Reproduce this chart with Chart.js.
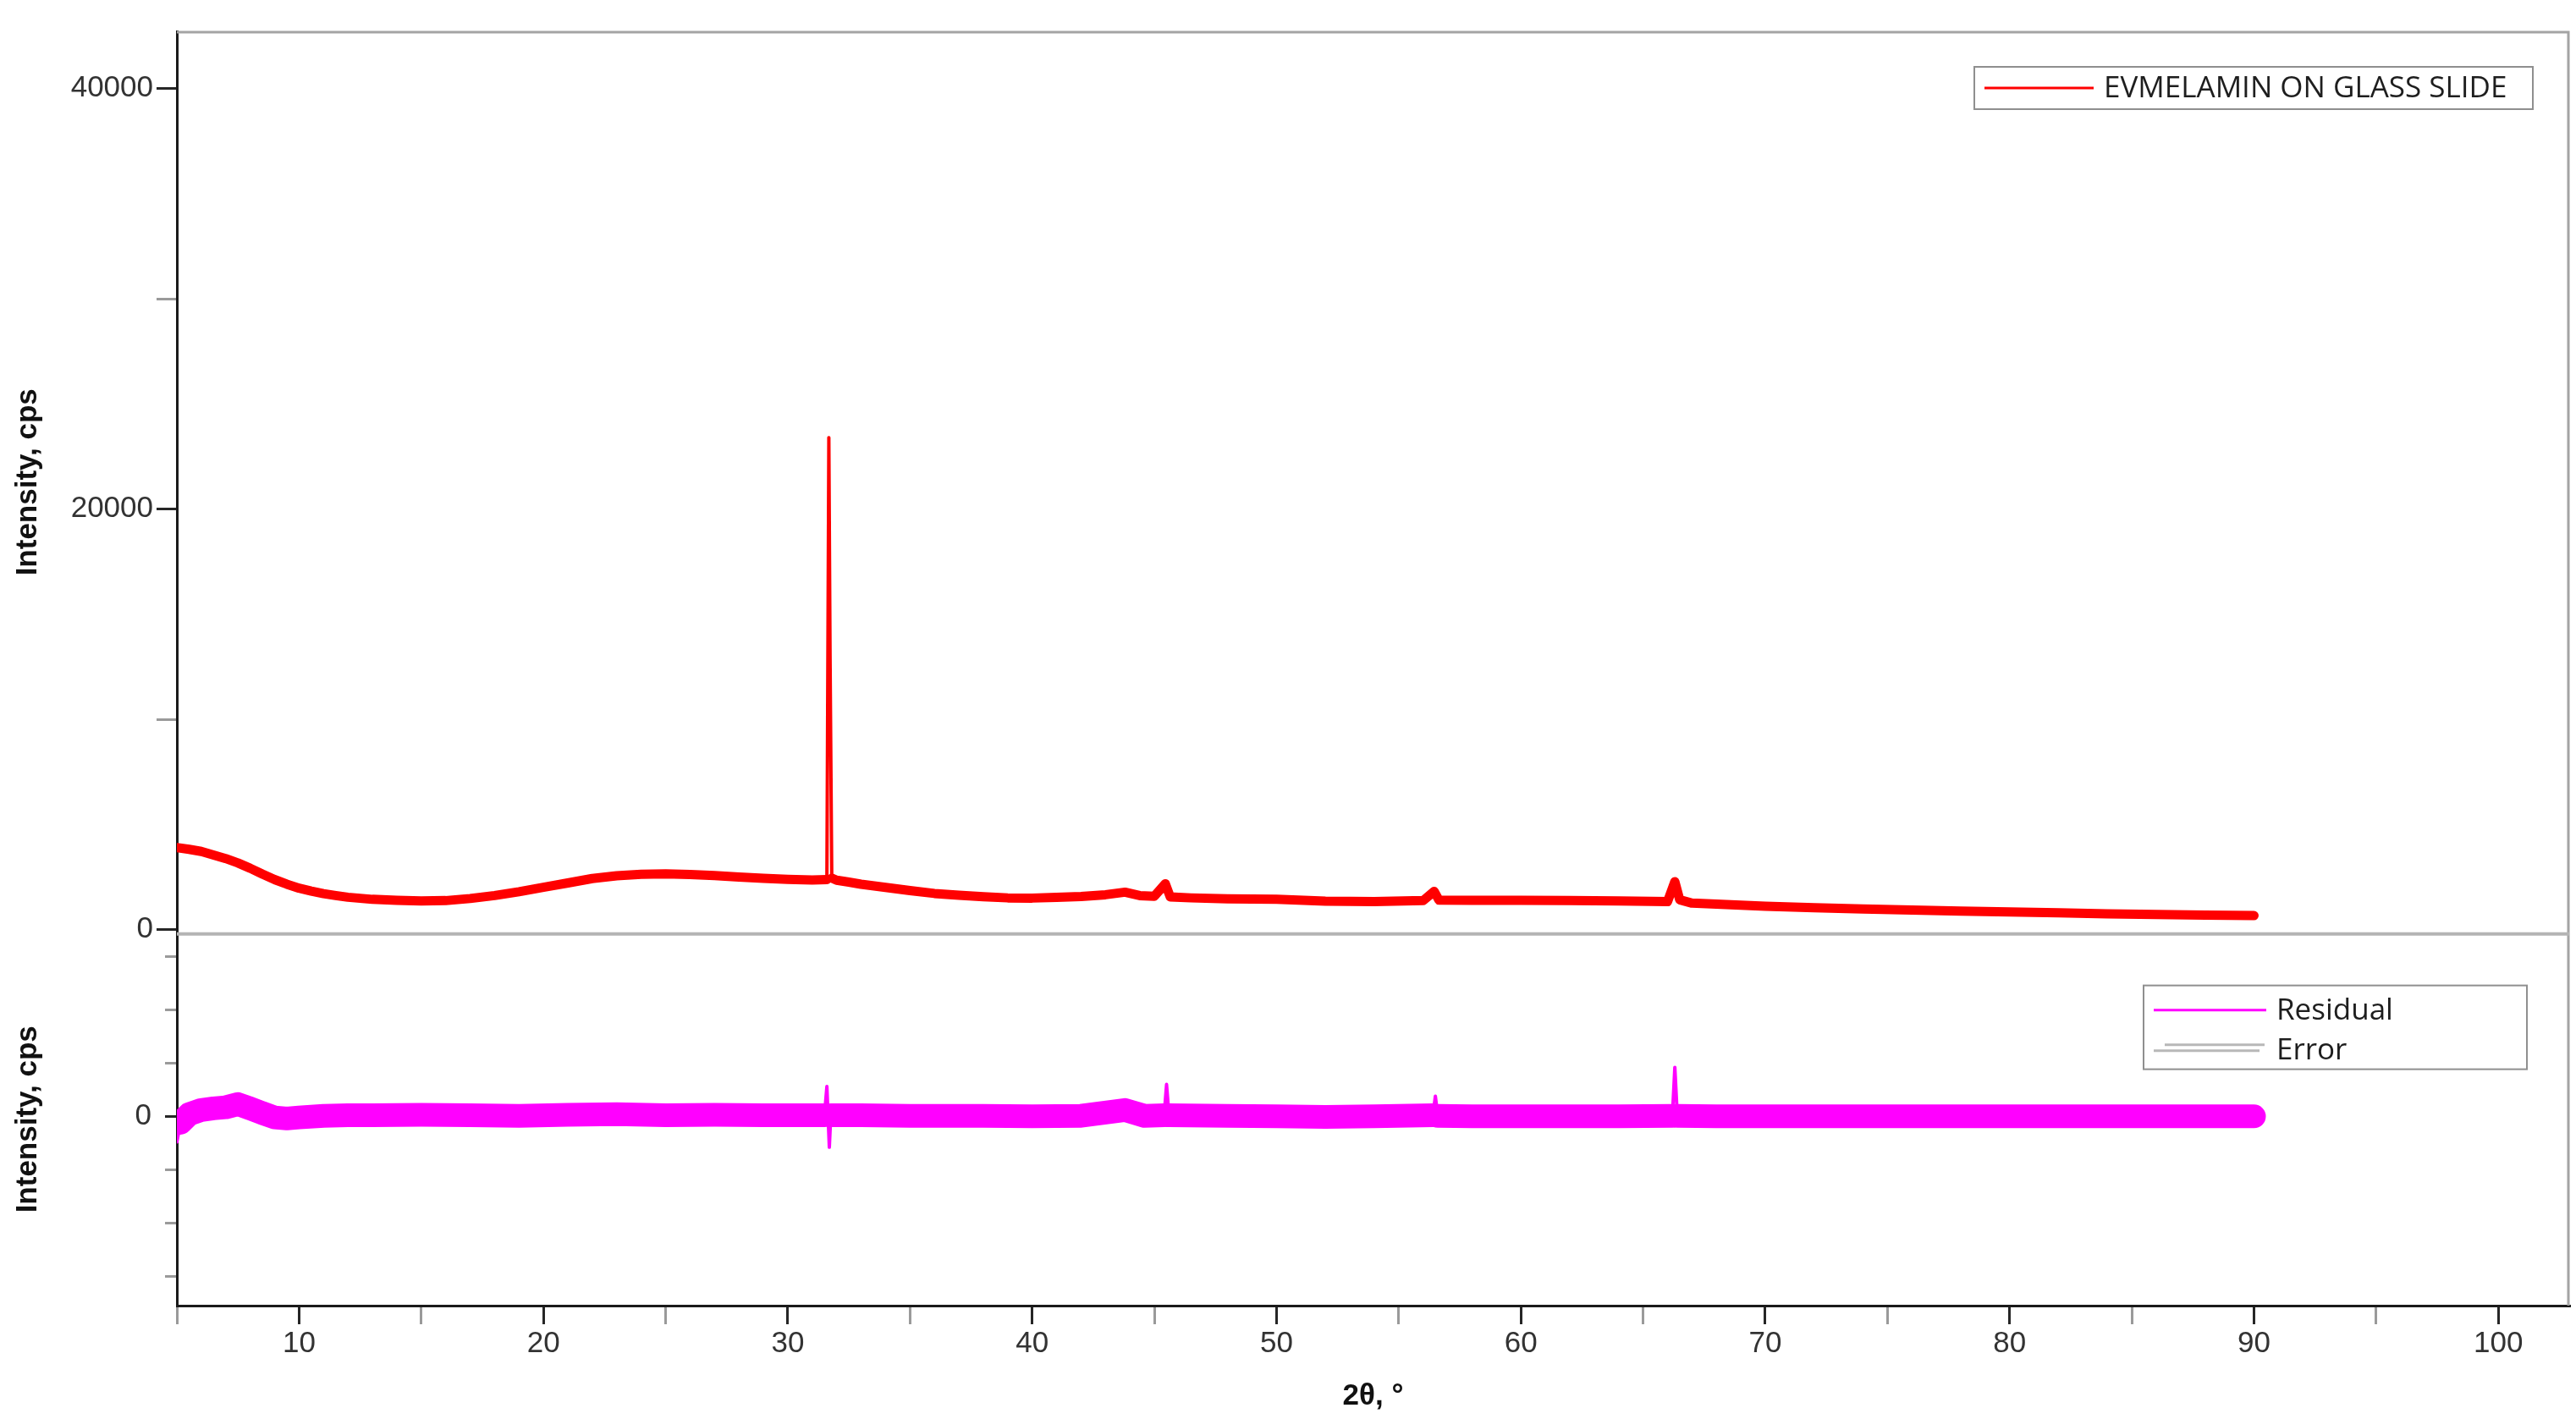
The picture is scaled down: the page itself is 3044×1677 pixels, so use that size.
<!DOCTYPE html>
<html>
<head>
<meta charset="utf-8">
<title>EVMELAMIN on glass slide - XRD</title>
<script src="https://cdn.jsdelivr.net/npm/chart.js@4.4.1/dist/chart.umd.min.js"></script>
<style>
    html, body { margin: 0; padding: 0; background: #fff; }
    #wrap { position: relative; width: 3044px; height: 1677px; }
</style>
</head>
<body>
<div id="wrap"><canvas id="xrdChart"></canvas></div>
<script>
const twoTheta = [5.0, 5.5, 6.0, 6.5, 7.0, 7.5, 8.0, 8.5, 9.0, 9.5, 10.0, 10.5, 11.0, 11.5, 12.0,
    13.0, 14.0, 15.0, 16.0, 17.0, 18.0, 19.0, 20.0, 21.0, 22.0, 23.0, 24.0, 25.0, 26.0, 27.0,
    28.0, 29.0, 30.0, 31.0, 31.6, 31.68, 31.73, 31.8, 32.0, 32.5, 33.0, 34.0, 35.0, 36.0, 37.0,
    38.0, 39.0, 40.0, 41.0, 42.0, 43.0, 43.8, 44.4, 45.0, 45.45, 45.65, 46.5, 48.0, 50.0, 52.0,
    54.0, 56.0, 56.45, 56.65, 58.0, 60.0, 62.0, 64.0, 66.0, 66.3, 66.5, 67.0, 68.0, 70.0, 72.0,
    74.0, 76.0, 78.0, 80.0, 82.0, 84.0, 86.0, 88.0, 90.0];
const intensity = [3900, 3820, 3720, 3550, 3380, 3170, 2920, 2640, 2380, 2160, 1970, 1830, 1710, 1620, 1540,
    1440, 1390, 1360, 1380, 1480, 1620, 1800, 2010, 2220, 2430, 2560, 2630, 2650, 2620, 2570,
    2500, 2440, 2390, 2360, 2380, 23400, 13000, 2450, 2350, 2260, 2160, 2010, 1860, 1720, 1640,
    1570, 1510, 1500, 1540, 1580, 1660, 1780, 1620, 1590, 2180, 1560, 1510, 1460, 1440, 1350,
    1330, 1380, 1820, 1400, 1390, 1390, 1380, 1360, 1330, 2280, 1420, 1260, 1210, 1110, 1040,
    980, 930, 880, 840, 800, 750, 720, 690, 670];

// Residual of the fit (cps)
const residTheta = [5.0, 5.15, 5.5, 6.0, 6.5, 7.0, 7.5, 8.0, 8.5, 9.0, 9.5, 10.0, 11.0, 12.0, 13.0,
    15.0, 17.0, 19.0, 21.0, 23.0, 25.0, 27.0, 29.0, 31.5, 31.6, 31.7, 31.76, 33.0, 35.0, 38.0,
    40.0, 42.0, 43.8, 44.6, 45.4, 45.5, 45.6, 48.0, 50.0, 52.0, 54.0, 56.4, 56.5, 56.6, 58.0,
    60.0, 62.0, 64.0, 66.2, 66.3, 66.4, 68.0, 70.0, 75.0, 80.0, 85.0, 90.0];
const residual = [-480, -120, 40, 120, 150, 170, 230, 150, 60, -20, -40, -20, 10, 20, 20,
    30, 20, 10, 30, 40, 20, 30, 20, 20, 560, -580, 20, 20, 10, 10,
    0, 10, 120, 10, 20, 600, 20, 10, 0, -10, 0, 20, 380, 10, 0,
    0, 0, 0, 10, 920, 10, 0, 0, 0, 0, 0, 0];

// Tick positions and the ticks that carry a label
const xTicks = [5, 10, 15, 20, 25, 30, 35, 40, 45, 50, 55, 60, 65, 70, 75, 80, 85, 90, 95, 100];
const xTickLabels = [10, 20, 30, 40, 50, 60, 70, 80, 90, 100];
const intensityTicks = [0, 10000, 20000, 30000, 40000];
const intensityTickLabels = [0, 20000, 40000];
const residualTicks = [-3000, -2000, -1000, 0, 1000, 2000, 3000];
const residualTickLabels = [0];

const tickFont = { family: "'Liberation Sans', Arial, sans-serif", size: 35 };
const titleFont = { family: "'Liberation Sans', Arial, sans-serif", size: 35, weight: 'bold' };
const legendFont = "35px 'Open Sans', 'Noto Sans', sans-serif";

function toPoints(xs, ys) {
    return xs.map((x, i) => ({ x: x, y: ys[i] }));
}

function fixedTicks(list) {
    return function(scale) {
        scale.ticks = list.map(v => ({ value: v }));
    };
}

function labelOnly(list) {
    return function(value) {
        return list.includes(value) ? String(value) : '';
    };
}

function majorColor(list) {
    return function(ctx) {
        return ctx.tick && list.includes(ctx.tick.value) ? '#262626' : '#9a9a9a';
    };
}

// frame lines round the plot and the line between the two panels
const panelFrame = {
    id: 'panelFrame',
    afterDraw(chart) {
        const { ctx, chartArea } = chart;
        const upper = chart.scales.yInt;
        ctx.save();
        ctx.strokeStyle = '#a4a4a4';
        ctx.lineWidth = 3;
        ctx.beginPath();
        ctx.moveTo(chartArea.left, chartArea.top + 1);
        ctx.lineTo(chartArea.right - 1, chartArea.top + 1);
        ctx.lineTo(chartArea.right - 1, chartArea.bottom);
        ctx.stroke();
        ctx.strokeStyle = '#b4b4b4';
        ctx.lineWidth = 4;
        ctx.beginPath();
        ctx.moveTo(chartArea.left, upper.bottom + 1);
        ctx.lineTo(chartArea.right, upper.bottom + 1);
        ctx.stroke();
        ctx.restore();
    }
};

// one boxed legend per panel
const panelLegend = {
    id: 'panelLegend',
    afterDraw(chart, args, opts) {
        const { ctx, chartArea } = chart;
        opts.boxes.forEach(box => {
            const scale = chart.scales[box.axis];
            const left = chartArea.right - box.right - box.width;
            const top = scale.top + box.top;
            ctx.save();
            ctx.fillStyle = '#ffffff';
            ctx.fillRect(left, top, box.width, box.height);
            ctx.strokeStyle = '#8f8f8f';
            ctx.lineWidth = 2;
            ctx.strokeRect(left, top, box.width, box.height);
            ctx.font = legendFont;
            ctx.textBaseline = 'middle';
            const items = chart.data.datasets.filter(d => d.yAxisID === box.axis);
            items.forEach((d, i) => {
                const cy = top + box.firstRow + i * box.rowGap;
                ctx.strokeStyle = d.borderColor;
                ctx.lineWidth = 3;
                ctx.beginPath();
                if (d.doubleSample) {
                    ctx.moveTo(left + 25, cy - 6);
                    ctx.lineTo(left + box.sample - 2, cy - 6);
                    ctx.moveTo(left + 12, cy + 1);
                    ctx.lineTo(left + box.sample - 8, cy + 1);
                } else {
                    ctx.moveTo(left + 12, cy);
                    ctx.lineTo(left + box.sample, cy);
                }
                ctx.stroke();
                ctx.fillStyle = '#1e1e1e';
                ctx.fillText(d.label, left + box.sample + 12, cy + 1);
            });
            ctx.restore();
        });
    }
};

const chartCtx = document.getElementById('xrdChart');
new Chart(chartCtx, {
    type: 'line',
    data: {
        datasets: [
            {
                label: 'EVMELAMIN ON GLASS SLIDE',
                data: toPoints(twoTheta, intensity),
                yAxisID: 'yInt',
                borderColor: '#ff0000',
                borderWidth: 11,
                borderCapStyle: 'round',
                borderJoinStyle: 'round',
                pointRadius: 0,
                tension: 0,
                segment: {
                    borderWidth: ctx => (ctx.p0.parsed.y > 5000 || ctx.p1.parsed.y > 5000) ? 4 : 11
                }
            },
            {
                label: 'Residual',
                data: toPoints(residTheta, residual),
                yAxisID: 'yRes',
                borderColor: '#ff00ff',
                borderWidth: 28,
                borderCapStyle: 'round',
                borderJoinStyle: 'round',
                pointRadius: 0,
                tension: 0,
                segment: {
                    borderWidth: ctx => (Math.abs(ctx.p0.parsed.y) > 300 || Math.abs(ctx.p1.parsed.y) > 300) ? 4 : 28
                }
            },
            {
                label: 'Error',
                data: [],
                yAxisID: 'yRes',
                borderColor: '#b8b8b8',
                borderWidth: 2,
                pointRadius: 0,
                doubleSample: true
            }
        ]
    },
    options: {
        responsive: true,
        maintainAspectRatio: false,
        devicePixelRatio: 1,
        animation: false,
        layout: {
            padding: { top: 28, right: 8, left: 0, bottom: 0 }
        },
        plugins: {
            legend: { display: false },
            tooltip: { enabled: false },
            panelLegend: {
                boxes: [
                    { axis: 'yInt', right: 43, top: 42, width: 660, height: 50, firstRow: 25, rowGap: 0, sample: 141 },
                    { axis: 'yRes', right: 50, top: 62, width: 453, height: 99, firstRow: 29, rowGap: 47, sample: 145 }
                ]
            }
        },
        scales: {
            x: {
                type: 'linear',
                min: 5,
                max: 102.9,
                border: { display: true, color: '#1a1a1a', width: 3 },
                grid: {
                    drawOnChartArea: false,
                    drawTicks: true,
                    tickLength: 22,
                    color: majorColor(xTickLabels),
                    lineWidth: 3
                },
                afterBuildTicks: fixedTicks(xTicks),
                ticks: {
                    autoSkip: false,
                    maxRotation: 0,
                    padding: 2,
                    color: '#333333',
                    font: tickFont,
                    callback: labelOnly(xTickLabels)
                },
                title: {
                    display: true,
                    text: '2θ, °',
                    color: '#111111',
                    font: titleFont,
                    padding: { top: 4, bottom: 6 }
                },
                afterFit: scale => { scale.height = 134; }
            },
            yRes: {
                type: 'linear',
                position: 'left',
                stack: 'panels',
                stackWeight: 443,
                min: -3554,
                max: 3444,
                border: { display: true, color: '#1a1a1a', width: 3 },
                grid: {
                    drawOnChartArea: false,
                    tickLength: 14,
                    color: majorColor(residualTickLabels),
                    lineWidth: 3
                },
                afterBuildTicks: fixedTicks(residualTicks),
                ticks: {
                    autoSkip: false,
                    padding: 16,
                    color: '#333333',
                    font: tickFont,
                    callback: labelOnly(residualTickLabels)
                },
                title: {
                    display: true,
                    text: 'Intensity, cps',
                    color: '#111111',
                    font: titleFont,
                    padding: { top: 12, bottom: 0 }
                },
                afterFit: scale => { scale.width = 209; }
            },
            yInt: {
                type: 'linear',
                position: 'left',
                stack: 'panels',
                stackWeight: 1072,
                min: -160,
                max: 42720,
                border: { display: true, color: '#1a1a1a', width: 3 },
                grid: {
                    drawOnChartArea: false,
                    tickLength: 24,
                    color: majorColor(intensityTickLabels),
                    lineWidth: 3
                },
                afterBuildTicks: fixedTicks(intensityTicks),
                ticks: {
                    autoSkip: false,
                    padding: 4,
                    color: '#333333',
                    font: tickFont,
                    callback: labelOnly(intensityTickLabels)
                },
                title: {
                    display: true,
                    text: 'Intensity, cps',
                    color: '#111111',
                    font: titleFont,
                    padding: { top: 12, bottom: 0 }
                },
                afterFit: scale => { scale.width = 209; }
            }
        }
    },
    plugins: [panelFrame, panelLegend]
});
</script>
</body>
</html>
